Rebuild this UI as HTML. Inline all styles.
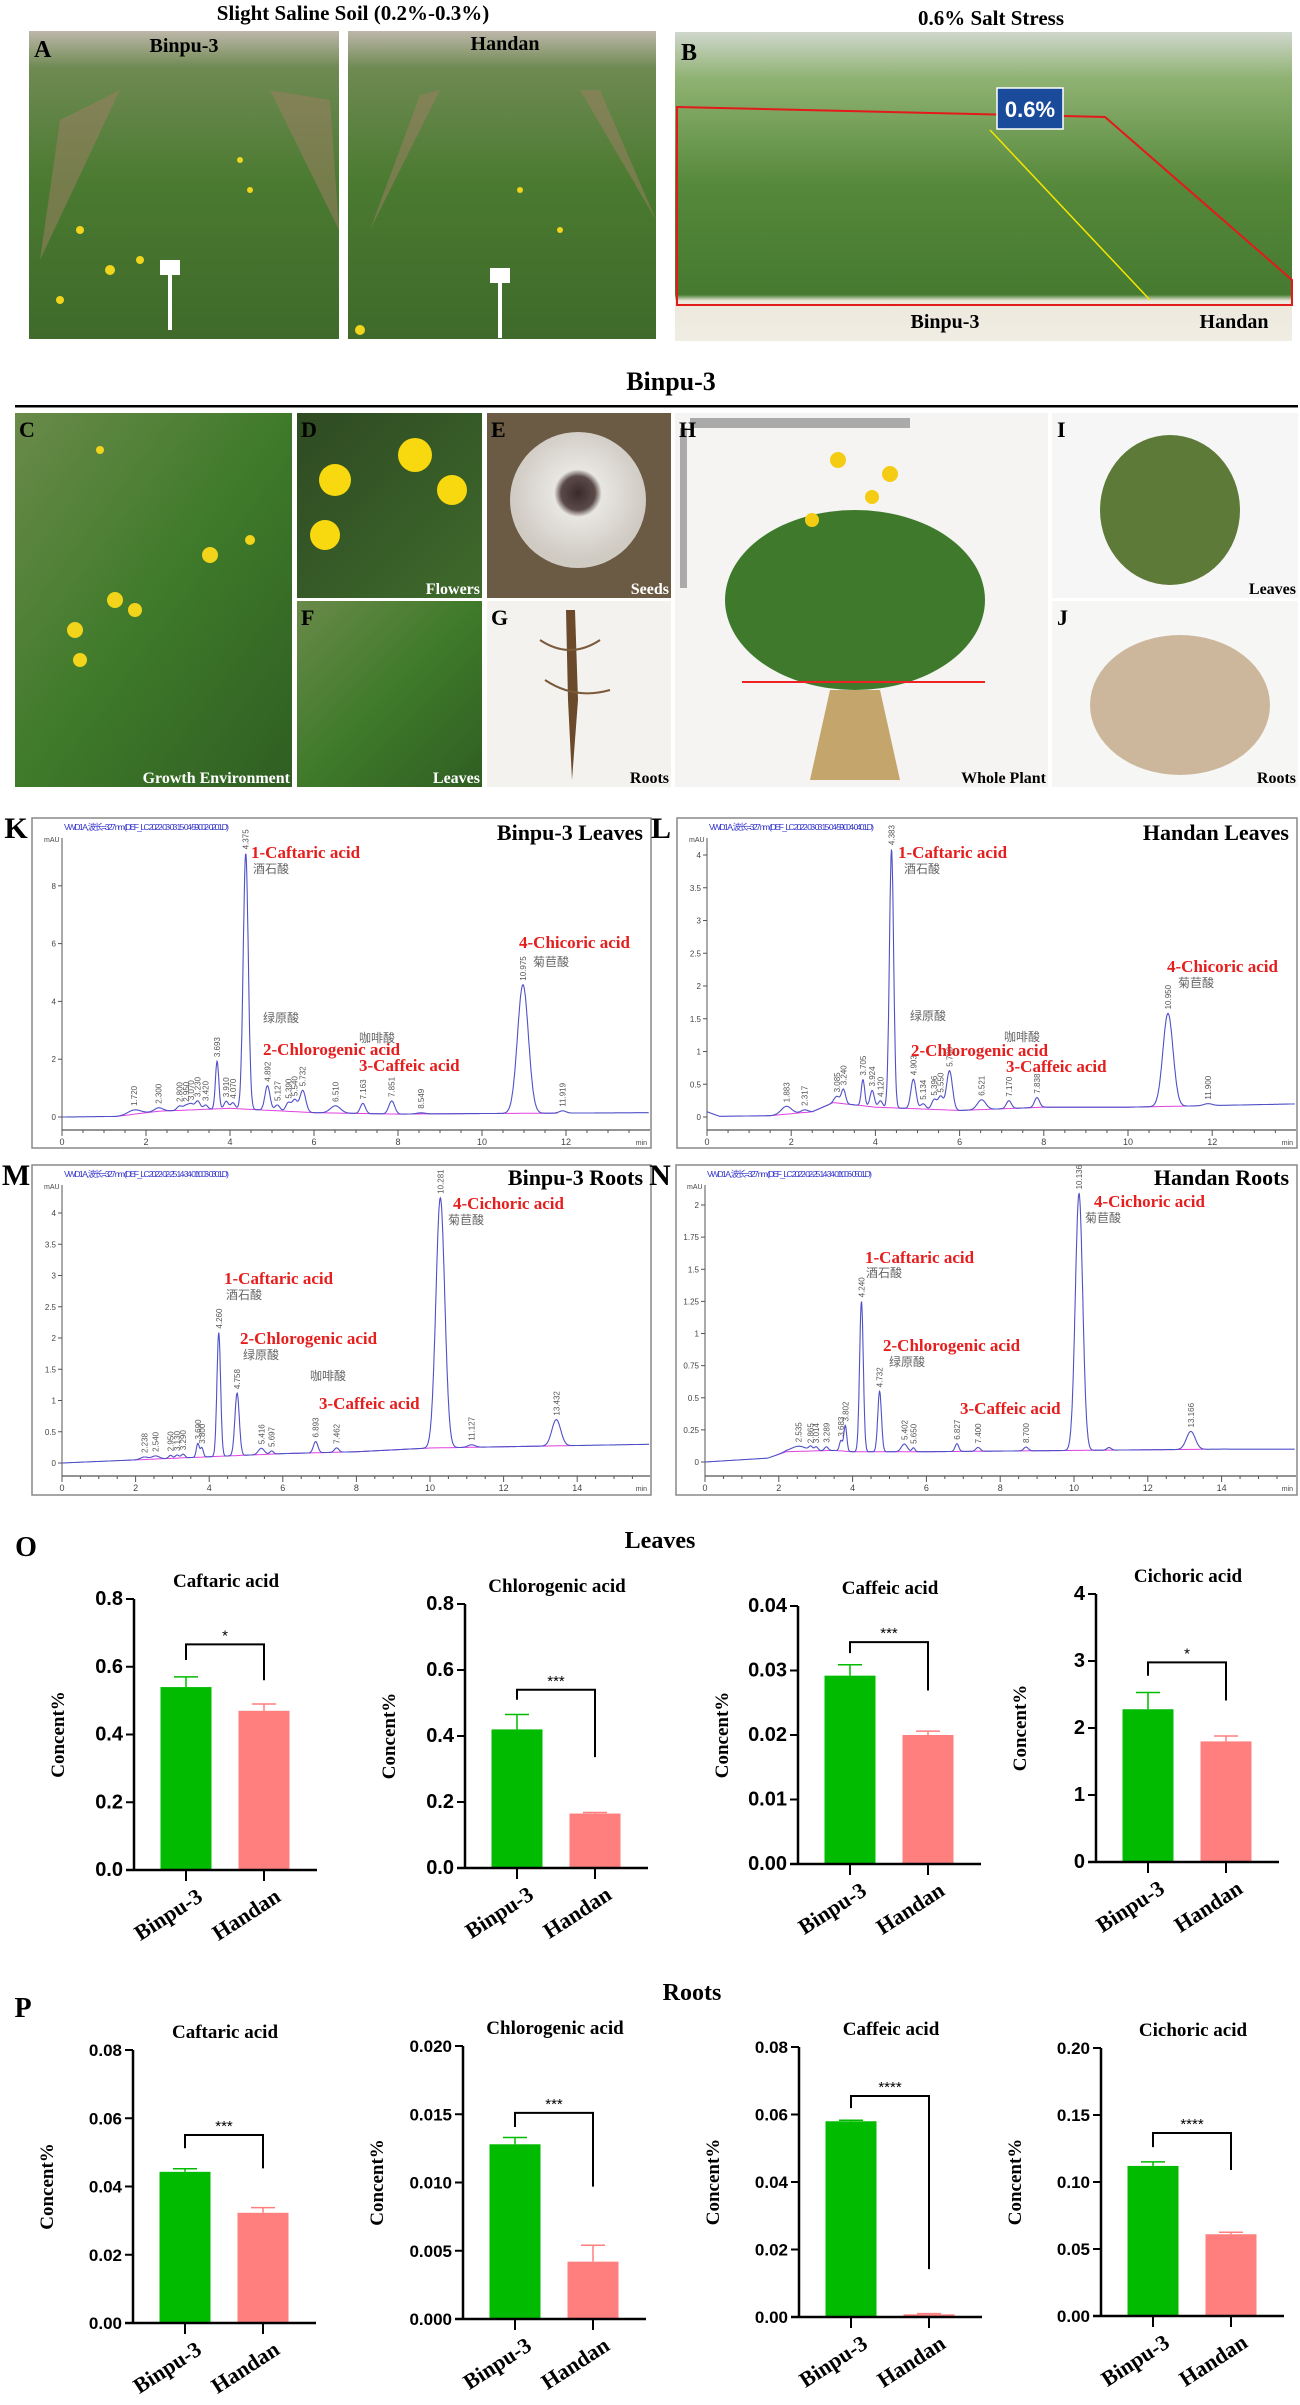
<!DOCTYPE html>
<html><head><meta charset="utf-8"><style>
html,body{margin:0;padding:0;background:#fff;}
svg{display:block;}
.serif{font-family:"Liberation Serif","Noto Serif CJK SC",serif;font-weight:bold;}
.sans{font-family:"Liberation Sans","Noto Sans CJK SC",sans-serif;}
</style></head><body>
<svg id="fig" width="1300" height="2405" viewBox="0 0 1300 2405" xmlns="http://www.w3.org/2000/svg">
<defs>
<linearGradient id="gField" x1="0" y1="0" x2="0" y2="1"><stop offset="0" stop-color="#bdb7aa"/><stop offset="0.12" stop-color="#6f8a52"/><stop offset="0.5" stop-color="#4a7a30"/><stop offset="1" stop-color="#3f6a2a"/></linearGradient>
<linearGradient id="gB" x1="0" y1="0" x2="0" y2="1"><stop offset="0" stop-color="#d0d6cc"/><stop offset="0.15" stop-color="#8fb272"/><stop offset="0.5" stop-color="#55883a"/><stop offset="0.85" stop-color="#467a30"/><stop offset="0.87" stop-color="#ece8dc"/><stop offset="1" stop-color="#f0ede4"/></linearGradient>
<linearGradient id="gGreen" x1="0" y1="0" x2="1" y2="1"><stop offset="0" stop-color="#6a8a4a"/><stop offset="0.5" stop-color="#3f7a2a"/><stop offset="1" stop-color="#2f5e22"/></linearGradient>
<linearGradient id="gDark" x1="0" y1="0" x2="1" y2="1"><stop offset="0" stop-color="#2e4a22"/><stop offset="1" stop-color="#3f6a2c"/></linearGradient>
<radialGradient id="gSeed" cx="0.5" cy="0.45" r="0.5"><stop offset="0" stop-color="#3a2a2a"/><stop offset="0.25" stop-color="#5a4a48"/><stop offset="0.35" stop-color="#e8e6e2"/><stop offset="1" stop-color="#cfcac2"/></radialGradient>
</defs>

<text class="serif" x="353" y="20" font-size="21" text-anchor="middle">Slight Saline Soil (0.2%-0.3%)</text>
<rect x="29" y="31" width="310" height="308" fill="url(#gField)"/>
<rect x="348" y="31" width="308" height="308" fill="url(#gField)"/>
<g fill="#9a7f62" opacity="0.55"><path d="M60 120 L120 90 L40 260Z"/><path d="M270 90 L330 100 L339 230Z"/><path d="M420 95 L440 90 L370 230Z"/><path d="M580 90 L600 90 L656 220Z"/></g>
<g fill="#f1d51c"><circle cx="80" cy="230" r="4"/><circle cx="110" cy="270" r="5"/><circle cx="140" cy="260" r="4"/><circle cx="240" cy="160" r="3"/><circle cx="250" cy="190" r="3"/><circle cx="60" cy="300" r="4"/><circle cx="360" cy="330" r="5"/><circle cx="520" cy="190" r="3"/><circle cx="560" cy="230" r="3"/></g>
<rect x="160" y="260" width="20" height="15" fill="#fff"/><rect x="168" y="275" width="4" height="55" fill="#fff"/>
<rect x="490" y="268" width="20" height="15" fill="#fff"/><rect x="498" y="283" width="4" height="55" fill="#fff"/>
<text class="serif" x="34" y="57" font-size="24">A</text>
<text class="serif" x="184" y="52" font-size="20" text-anchor="middle">Binpu-3</text>
<text class="serif" x="505" y="50" font-size="20" text-anchor="middle">Handan</text>

<text class="serif" x="991" y="25" font-size="21" text-anchor="middle">0.6% Salt Stress</text>
<rect x="675" y="32" width="617" height="309" fill="url(#gB)"/>
<polygon points="677,107 1105,117 1292,280 1292,305 677,305" fill="none" stroke="#e31a1a" stroke-width="2"/>
<line x1="990" y1="130" x2="1150" y2="300" stroke="#f4e600" stroke-width="1.5"/>
<rect x="997" y="88" width="66" height="41" fill="#1a4a9a" stroke="#fff" stroke-width="1.5"/>
<text class="sans" x="1030" y="117" font-size="22" fill="#fff" text-anchor="middle" font-weight="bold">0.6%</text>
<text class="serif" x="681" y="60" font-size="24">B</text>
<text class="serif" x="945" y="328" font-size="20" text-anchor="middle">Binpu-3</text>
<text class="serif" x="1234" y="328" font-size="20" text-anchor="middle">Handan</text>

<text class="serif" x="671" y="390" font-size="26" text-anchor="middle">Binpu-3</text>
<rect x="15" y="405" width="1283" height="2.5" fill="#000"/>

<rect x="15" y="413" width="277" height="374" fill="url(#gGreen)"/>
<g fill="#f2d41a"><circle cx="115" cy="600" r="8"/><circle cx="135" cy="610" r="7"/><circle cx="75" cy="630" r="8"/><circle cx="80" cy="660" r="7"/><circle cx="210" cy="555" r="8"/><circle cx="100" cy="450" r="4"/><circle cx="250" cy="540" r="5"/></g>
<rect x="297" y="413" width="185" height="185" fill="url(#gDark)"/>
<g fill="#f8d80e"><circle cx="415" cy="455" r="17"/><circle cx="335" cy="480" r="16"/><circle cx="452" cy="490" r="15"/><circle cx="325" cy="535" r="15"/></g>
<rect x="487" y="413" width="184" height="185" fill="#6b5a44"/>
<circle cx="578" cy="500" r="68" fill="url(#gSeed)"/>
<rect x="297" y="601" width="185" height="186" fill="url(#gGreen)"/>
<rect x="487" y="601" width="184" height="186" fill="#f4f2ef"/>
<path d="M566 610 L575 610 L578 700 L572 780 L568 700Z" fill="#6a4a2a"/><path d="M540 640 Q570 660 600 640 M545 680 Q575 700 610 690" stroke="#7a5a3a" fill="none" stroke-width="2"/>
<rect x="675" y="413" width="373" height="374" fill="#f5f4f3"/>
<rect x="690" y="418" width="220" height="10" fill="#aaa"/><rect x="680" y="428" width="7" height="160" fill="#aaa"/>
<ellipse cx="855" cy="600" rx="130" ry="90" fill="#3f7a2c"/>
<path d="M830 690 L880 690 L900 780 L810 780Z" fill="#b8914a" opacity="0.8"/>
<line x1="742" y1="682" x2="985" y2="682" stroke="#e22" stroke-width="2"/>
<g fill="#f5cc14"><circle cx="838" cy="460" r="8"/><circle cx="890" cy="474" r="8"/><circle cx="872" cy="497" r="7"/><circle cx="812" cy="520" r="7"/></g>
<rect x="1052" y="413" width="246" height="185" fill="#f6f6f6"/>
<ellipse cx="1170" cy="510" rx="70" ry="75" fill="#5e7a38"/>
<rect x="1052" y="601" width="246" height="186" fill="#f6f6f5"/>
<ellipse cx="1180" cy="705" rx="90" ry="70" fill="#cdb79c"/>
<g class="serif" font-size="22">
<text x="19" y="437">C</text><text x="301" y="437">D</text><text x="491" y="437">E</text><text x="301" y="625">F</text><text x="491" y="625">G</text><text x="679" y="437">H</text><text x="1057" y="437">I</text><text x="1057" y="625">J</text>
</g>
<g class="serif" font-size="16" font-weight="normal" text-anchor="end">
<text x="290" y="783" fill="#fff">Growth Environment</text>
<text x="480" y="594" fill="#fff">Flowers</text>
<text x="669" y="594" fill="#fff">Seeds</text>
<text x="480" y="783" fill="#fff">Leaves</text>
<text x="669" y="783" fill="#000">Roots</text>
<text x="1046" y="783" fill="#000">Whole Plant</text>
<text x="1296" y="594" fill="#000">Leaves</text>
<text x="1296" y="783" fill="#000">Roots</text>
</g>

<g id="chroms"></g>
<g id="bars"></g>

<text class="serif" x="26" y="1556" font-size="28" text-anchor="middle">O</text>
<text class="serif" x="660" y="1548" font-size="24" text-anchor="middle">Leaves</text>
<text class="serif" x="23" y="2017" font-size="28" text-anchor="middle">P</text>
<text class="serif" x="692" y="2000" font-size="24" text-anchor="middle">Roots</text>
</svg>

<script>
const NS='http://www.w3.org/2000/svg';
function mk(tag,attrs,parent,txt){const e=document.createElementNS(NS,tag);for(const k in attrs)e.setAttribute(k,attrs[k]);if(txt!==undefined)e.textContent=txt;parent.appendChild(e);return e;}

const K_times=[1.72,2.30,2.80,2.95,3.07,3.23,3.42,3.693,3.91,4.07,4.375,4.892,5.127,5.39,5.54,5.732,6.51,7.163,7.851,8.549,10.975,11.919];
const K_heights=[0.15,0.12,0.15,0.15,0.2,0.3,0.15,1.65,0.25,0.2,8.85,0.85,0.2,0.3,0.4,0.75,0.25,0.35,0.45,0.04,4.45,0.08];
const K_widths=[0.15,0.1,0.06,0.06,0.06,0.06,0.05,0.04,0.05,0.05,0.06,0.06,0.06,0.06,0.06,0.07,0.12,0.06,0.07,0.1,0.13,0.08];
const K_baseT=[0,1.3,2.3,4,6,8,10,14];
const K_baseV=[0,0.02,0.2,0.3,0.15,0.1,0.12,0.15];

const L_times=[1.883,2.317,3.085,3.24,3.705,3.924,4.12,4.383,4.903,5.134,5.396,5.55,5.76,6.521,7.17,7.838,10.95,11.9];
const L_heights=[0.12,0.04,0.1,0.22,0.4,0.25,0.1,3.95,0.45,0.08,0.15,0.2,0.6,0.15,0.12,0.15,1.42,0.03];
const L_widths=[0.12,0.08,0.06,0.05,0.04,0.05,0.05,0.05,0.06,0.06,0.06,0.06,0.07,0.1,0.06,0.06,0.12,0.1];
const L_baseT=[0,0.3,1.5,2.5,3,4,6,8,10,14];
const L_baseV=[0.08,0.01,0.02,0.08,0.22,0.15,0.1,0.15,0.15,0.2];

const M_times=[2.238,2.54,2.95,3.13,3.29,3.69,3.80,4.26,4.758,5.416,5.697,6.893,7.462,10.281,11.127,13.432];
const M_heights=[0.04,0.05,0.05,0.05,0.06,0.22,0.15,1.98,1.0,0.1,0.05,0.18,0.07,4.0,0.04,0.42];
const M_widths=[0.1,0.1,0.05,0.05,0.05,0.04,0.04,0.05,0.06,0.08,0.05,0.06,0.06,0.12,0.1,0.12];
const M_baseT=[0,2,4,6,8,10,12,14,16];
const M_baseV=[0,0.05,0.1,0.15,0.18,0.24,0.26,0.28,0.3];

const N_times=[2.535,2.865,3.014,3.289,3.683,3.802,4.240,4.732,5.402,5.65,6.827,7.4,8.7,10.136,10.95,13.166];
const N_heights=[0.04,0.03,0.03,0.03,0.08,0.2,1.17,0.47,0.06,0.03,0.06,0.03,0.03,2.0,0.02,0.14];
const N_widths=[0.2,0.05,0.05,0.05,0.04,0.04,0.05,0.05,0.08,0.04,0.05,0.06,0.06,0.1,0.06,0.12];
const N_baseT=[0,1.7,2.2,3.5,4,6,10,14,16];
const N_baseV=[0,0.03,0.08,0.09,0.08,0.08,0.09,0.1,0.1];

function interp(ts,vs,t){if(t<=ts[0])return vs[0];for(let i=1;i<ts.length;i++){if(t<=ts[i]){const f=(t-ts[i-1])/(ts[i]-ts[i-1]);return vs[i-1]+f*(vs[i]-vs[i-1]);}}return vs[vs.length-1];}

function chrom(cfg){
  const g=mk('g',{},document.getElementById('chroms'));
  
  
  const [bx,by,bx2,by2]=cfg.box;
  mk('rect',{x:bx,y:by,width:bx2-bx,height:by2-by,fill:'#fff',stroke:'#888','stroke-width':1.5},g);
  const X=t=>cfg.x0+t*cfg.ppm, Y=v=>cfg.y0-v*cfg.ppu;
  const ax=mk('line',{x1:cfg.x0,y1:cfg.yTop,x2:cfg.x0,y2:cfg.axisY,stroke:'#555','stroke-width':1},g);
  
  mk('line',{x1:cfg.x0,y1:cfg.axisY,x2:bx2-1,y2:cfg.axisY,stroke:'#555','stroke-width':1.2},g);
  cfg.yticks.forEach(v=>{
    mk('line',{x1:cfg.x0-4,y1:Y(v),x2:cfg.x0,y2:Y(v),stroke:'#555'},g);
    const t=mk('text',{x:cfg.x0-6,y:Y(v)+3,'font-size':8,'text-anchor':'end',fill:'#444',class:'sans'},g,String(v));
    
  });
  for(let t=0;t*cfg.ppm+cfg.x0<bx2-2;t+=0.5){
    const major=Math.abs(t%2)<1e-6;
    mk('line',{x1:X(t),y1:cfg.axisY,x2:X(t),y2:cfg.axisY+(major?6:3),stroke:'#555'},g);
    if(major){const tl=mk('text',{x:X(t),y:cfg.axisY+15,'font-size':9,'text-anchor':'middle',fill:'#444',class:'sans'},g,String(t));}
  }
  mk('text',{x:cfg.x0-18,y:cfg.yTop+4,'font-size':7,fill:'#444',class:'sans'},g,'mAU');
  mk('text',{x:bx2-4,y:cfg.axisY+15,'font-size':7,fill:'#444','text-anchor':'end',class:'sans'},g,'min');
  mk('text',{x:cfg.x0+2,y:by+12,'font-size':8.5,fill:'#3333cc',class:'sans',textLength:165},g,cfg.header);
  let ip='';
  for(let t=cfg.intStart;t<=cfg.intEnd;t+=0.1){ip+=(ip?'L':'M')+X(t).toFixed(1)+' '+Y(interp(cfg.bt,cfg.bv,t)).toFixed(1);}
  mk('path',{d:ip,stroke:'#e040e0',fill:'none','stroke-width':1},g);
  let d='';
  const tmax=(bx2-2-cfg.x0)/cfg.ppm;
  for(let t=0;t<=tmax;t+=0.01){
    let v=interp(cfg.bt,cfg.bv,t);
    for(let i=0;i<cfg.times.length;i++){const z=(t-cfg.times[i])/cfg.widths[i];v+=cfg.heights[i]*Math.exp(-0.5*z*z);}
    d+=(d?'L':'M')+X(t).toFixed(1)+' '+Y(v).toFixed(1);
  }
  const sig=mk('path',{d:d,stroke:'#5050c8',fill:'none','stroke-width':1.1},g);
  
  cfg.times.forEach((tm,i)=>{
    if(cfg.heights[i]<0.03)return;
    const px=X(tm), py=Y(interp(cfg.bt,cfg.bv,tm)+cfg.heights[i])-4;
    const tt=mk('text',{x:px+3,y:py,'font-size':8,fill:'#555',class:'sans',transform:`rotate(-90 ${px+3} ${py})`},g,tm.toFixed(3));
    
  });
  mk('text',{x:bx2-8,y:cfg.titleY,'font-size':22,'text-anchor':'end',class:'serif'},g,cfg.title);
  mk('text',{x:bx-16,y:by+20,'font-size':30,'text-anchor':'middle',class:'serif'},g,cfg.letter);
  cfg.labels.forEach(l=>{const e=mk('text',{x:l[0],y:l[1],'font-size':17,fill:'#e61e1e',class:'serif'},g,l[2]);});
  cfg.cn.forEach(l=>{mk('text',{x:l[0],y:l[1],'font-size':12,fill:'#666',class:'sans'},g,l[2]);});
}

chrom({name:'chromatogram-k',letter:'K',title:'Binpu-3 Leaves',titleY:840,box:[32,818,651,1148],x0:62,ppm:42.0,y0:1117,ppu:28.9,axisY:1130,yTop:838,yticks:[0,2,4,6,8],
 times:K_times,heights:K_heights,widths:K_widths,bt:K_baseT,bv:K_baseV,intStart:1.3,intEnd:11.8,
 header:'VWD1 A, 波长=327 nm (DEF_LC 2022-03-03 15-04-59\\002-0201.D)',
 labels:[[251,858,'1-Caftaric acid'],[263,1055,'2-Chlorogenic acid'],[359,1071,'3-Caffeic acid'],[519,948,'4-Chicoric acid']],
 cn:[[253,873,'酒石酸'],[263,1022,'绿原酸'],[359,1042,'咖啡酸'],[533,966,'菊苣酸']]});
chrom({name:'chromatogram-l',letter:'L',title:'Handan Leaves',titleY:840,box:[677,818,1297,1148],x0:707,ppm:42.1,y0:1117,ppu:65.5,axisY:1130,yTop:838,yticks:[0,0.5,1,1.5,2,2.5,3,3.5,4],
 times:L_times,heights:L_heights,widths:L_widths,bt:L_baseT,bv:L_baseV,intStart:1.4,intEnd:11.4,
 header:'VWD1 A, 波长=327 nm (DEF_LC 2022-03-03 15-04-59\\004-0401.D)',
 labels:[[898,858,'1-Caftaric acid'],[911,1056,'2-Chlorogenic acid'],[1006,1072,'3-Caffeic acid'],[1167,972,'4-Chicoric acid']],
 cn:[[904,873,'酒石酸'],[910,1020,'绿原酸'],[1004,1041,'咖啡酸'],[1178,987,'菊苣酸']]});
chrom({name:'chromatogram-m',letter:'M',title:'Binpu-3 Roots',titleY:1185,box:[32,1165,651,1495],x0:62,ppm:36.8,y0:1463,ppu:62.5,axisY:1476,yTop:1185,yticks:[0,0.5,1,1.5,2,2.5,3,3.5,4],
 times:M_times,heights:M_heights,widths:M_widths,bt:M_baseT,bv:M_baseV,intStart:1.8,intEnd:13.9,
 header:'VWD1 A, 波长=327 nm (DEF_LC 2022-02-25 14-34-01\\003-0301.D)',
 labels:[[224,1284,'1-Caftaric acid'],[240,1344,'2-Chlorogenic acid'],[319,1409,'3-Caffeic acid'],[453,1209,'4-Cichoric acid']],
 cn:[[226,1299,'酒石酸'],[243,1359,'绿原酸'],[310,1380,'咖啡酸'],[448,1224,'菊苣酸']]});
chrom({name:'chromatogram-n',letter:'N',title:'Handan Roots',titleY:1185,box:[676,1165,1297,1495],x0:705,ppm:36.9,y0:1462,ppu:128.5,axisY:1476,yTop:1185,yticks:[0,0.25,0.5,0.75,1,1.25,1.5,1.75,2],
 times:N_times,heights:N_heights,widths:N_widths,bt:N_baseT,bv:N_baseV,intStart:1.9,intEnd:13.5,
 header:'VWD1 A, 波长=327 nm (DEF_LC 2022-02-25 14-34-01\\006-0501.D)',
 labels:[[865,1263,'1-Caftaric acid'],[883,1351,'2-Chlorogenic acid'],[960,1414,'3-Caffeic acid'],[1094,1207,'4-Cichoric acid']],
 cn:[[866,1277,'酒石酸'],[889,1366,'绿原酸'],[1085,1222,'菊苣酸']]});

const groups=['Binpu-3','Handan'];
const O_caftaric=[0.54,0.47],        O_caftaric_err=[0.03,0.02];
const O_chlorogenic=[0.42,0.165],    O_chlorogenic_err=[0.045,0.003];
const O_caffeic=[0.0292,0.0200],     O_caffeic_err=[0.0017,0.0006];
const O_cichoric=[2.28,1.80],        O_cichoric_err=[0.25,0.08];
const P_caftaric=[0.0443,0.0323],    P_caftaric_err=[0.0009,0.0015];
const P_chlorogenic=[0.0128,0.0042], P_chlorogenic_err=[0.0005,0.0012];
const P_caffeic=[0.0580,0.0008],     P_caffeic_err=[0.0003,0.0002];
const P_cichoric=[0.112,0.061],      P_cichoric_err=[0.003,0.0015];
const O_brackets=[[0.666,0.62,0.56],[0.54,0.51,0.336],[0.0344,0.0327,0.0269],[2.98,2.78,2.41]];
const P_brackets=[[0.0551,0.0512,0.0453],[0.0151,0.01407,0.0097],[0.0655,0.0619,0.0142],[0.1366,0.126,0.109]];
const O_stars=['*','***','***','*'];
const P_stars=['***','***','****','****'];
const O_titles=['Caftaric acid','Chlorogenic acid','Caffeic acid','Cichoric acid'];
const O_ticks=[[0,0.2,0.4,0.6,0.8],[0,0.2,0.4,0.6,0.8],[0,0.01,0.02,0.03,0.04],[0,1,2,3,4]];
const P_ticks=[[0,0.02,0.04,0.06,0.08],[0,0.005,0.010,0.015,0.020],[0,0.02,0.04,0.06,0.08],[0,0.05,0.10,0.15,0.20]];

const colors=['#00bb00','#ff7f7f'];
function bar(cfg){
  const g=mk('g',{},document.getElementById('bars'));
  
  
  const ymax=cfg.ticks[cfg.ticks.length-1];
  const Y=v=>cfg.bot-(v/ymax)*(cfg.bot-cfg.top);
  const ax=cfg.ax;
  const centers=[ax+52,ax+130];
  const bw=51;
  cfg.vals.forEach((v,i)=>{
    const r=mk('rect',{x:centers[i]-bw/2,y:Y(v),width:bw,height:cfg.bot-Y(v),fill:colors[i]},g);
    
    const e=cfg.errs[i];
    mk('line',{x1:centers[i],y1:Y(v),x2:centers[i],y2:Y(v+e),stroke:colors[i],'stroke-width':1.5},g);
    mk('line',{x1:centers[i]-12,y1:Y(v+e),x2:centers[i]+12,y2:Y(v+e),stroke:colors[i],'stroke-width':1.5},g);
  });
  mk('line',{x1:ax,y1:cfg.top,x2:ax,y2:cfg.bot,stroke:'#000','stroke-width':2.5},g);
  mk('line',{x1:ax-8,y1:cfg.bot,x2:ax+183,y2:cfg.bot,stroke:'#000','stroke-width':2.5},g);
  cfg.ticks.forEach(t=>{
    mk('line',{x1:ax-8,y1:Y(t),x2:ax,y2:Y(t),stroke:'#000','stroke-width':2},g);
    const tl=mk('text',{x:ax-11,y:Y(t)+6,'font-size':cfg.tfs,'font-weight':'bold','text-anchor':'end',class:'sans'},g,t.toFixed(cfg.dec));
    
  });
  groups.forEach((gname,i)=>{
    mk('line',{x1:centers[i],y1:cfg.bot,x2:centers[i],y2:cfg.bot+11,stroke:'#000','stroke-width':2},g);
    const lx=centers[i]+18, ly=cfg.bot+30;
    const xl=mk('text',{x:lx,y:ly,'font-size':22,'text-anchor':'end',class:'serif',transform:`rotate(-33 ${lx} ${ly})`},g,gname);
    
  });
  const yt=mk('text',{x:ax+cfg.ytOff,y:(cfg.top+cfg.bot)/2,'font-size':19,'text-anchor':'middle',class:'serif',transform:`rotate(-90 ${ax+cfg.ytOff} ${(cfg.top+cfg.bot)/2})`},g,'Concent%');
  
  const tt=mk('text',{x:ax+92,y:cfg.top-12,'font-size':19,'text-anchor':'middle',class:'serif'},g,cfg.title);
  
  const b=cfg.br;
  mk('path',{d:`M${centers[0]} ${Y(b[1])} L${centers[0]} ${Y(b[0])} L${centers[1]} ${Y(b[0])} L${centers[1]} ${Y(b[2])}`,fill:'none',stroke:'#000','stroke-width':2},g);
  const st=mk('text',{x:(centers[0]+centers[1])/2,y:Y(b[0])-4,'font-size':15,'text-anchor':'middle',class:'sans'},g,cfg.star);
  
}
const O_axes=[[134,1599,1870],[465,1604,1868],[798,1606,1864],[1096,1594,1862]];
const P_axes=[[133,2050,2323],[463,2046,2319],[799,2047,2317],[1101,2048,2316]];
const O_vals=[O_caftaric,O_chlorogenic,O_caffeic,O_cichoric],O_errs=[O_caftaric_err,O_chlorogenic_err,O_caffeic_err,O_cichoric_err];
const P_vals=[P_caftaric,P_chlorogenic,P_caffeic,P_cichoric],P_errs=[P_caftaric_err,P_chlorogenic_err,P_caffeic_err,P_cichoric_err];
const O_dec=[1,1,2,0], P_dec=[2,3,2,2];
for(let i=0;i<4;i++){
  bar({name:'leaves-'+O_titles[i].split(' ')[0].toLowerCase()+'-chart',ax:O_axes[i][0],top:O_axes[i][1],bot:O_axes[i][2],ticks:O_ticks[i],dec:O_dec[i],tfs:20,
    vals:O_vals[i],errs:O_errs[i],br:O_brackets[i],star:O_stars[i],title:O_titles[i],ytOff:-70});
  bar({name:'roots-'+O_titles[i].split(' ')[0].toLowerCase()+'-chart',ax:P_axes[i][0],top:P_axes[i][1],bot:P_axes[i][2],ticks:P_ticks[i],dec:P_dec[i],tfs:17,
    vals:P_vals[i],errs:P_errs[i],br:P_brackets[i],star:P_stars[i],title:O_titles[i],ytOff:-80});
}
</script>
</body></html>
